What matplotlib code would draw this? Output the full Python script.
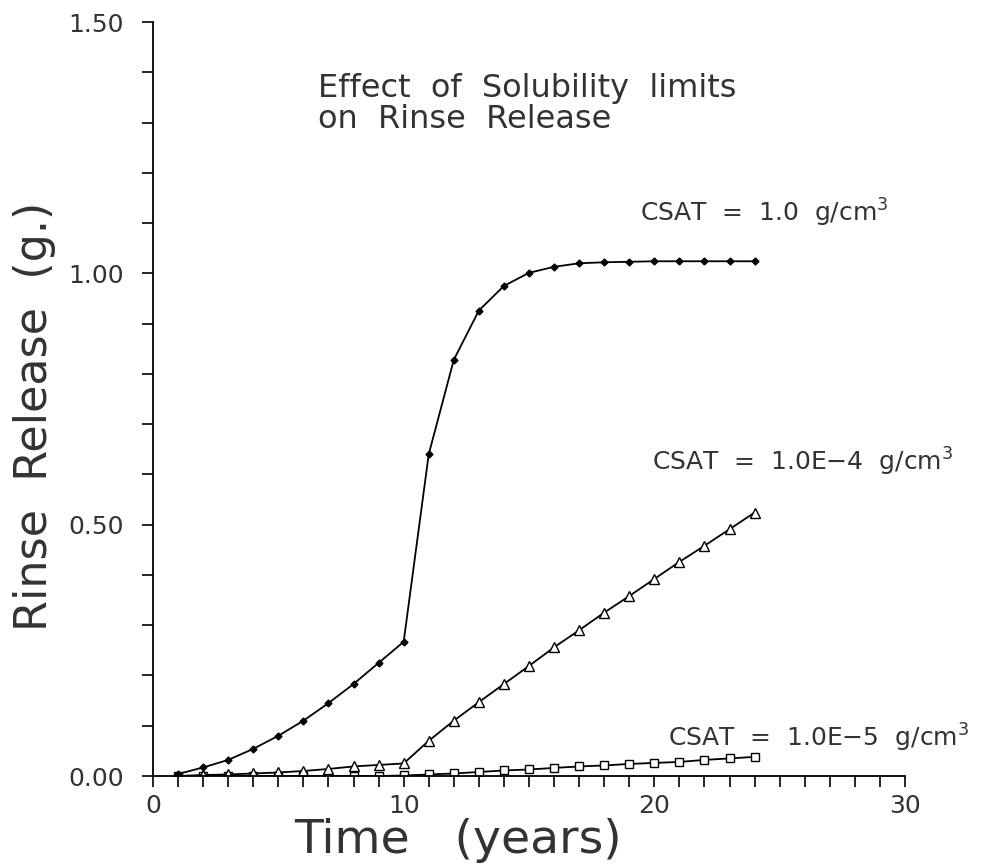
import matplotlib
matplotlib.use("Agg")
import matplotlib.pyplot as plt
from matplotlib.ticker import MultipleLocator, FixedLocator

years = list(range(1, 25))
csat_1 = [0.004, 0.017, 0.032, 0.054, 0.080, 0.110, 0.145, 0.183, 0.225, 0.267,
          0.640, 0.828, 0.926, 0.975, 1.001, 1.013, 1.020, 1.022, 1.023, 1.024,
          1.024, 1.024, 1.024, 1.024]
csat_1e4 = [0.000, 0.002, 0.003, 0.005, 0.007, 0.010, 0.014, 0.019, 0.022, 0.025,
            0.070, 0.110, 0.147, 0.183, 0.219, 0.256, 0.290, 0.325, 0.358, 0.392,
            0.426, 0.458, 0.491, 0.524]
csat_1e5 = [0.000, 0.000, 0.000, 0.000, 0.000, 0.000, 0.000, 0.000, 0.000, 0.001,
            0.003, 0.005, 0.008, 0.011, 0.013, 0.016, 0.019, 0.021, 0.024, 0.026,
            0.028, 0.032, 0.035, 0.038]

xticks = [0, 10, 20, 30]
xticklabels = ["0", "10", "20", "30"]
yticks = [0.0, 0.5, 1.0, 1.5]
yticklabels = ["0.00", "0.50", "1.00", "1.50"]

plt.rcParams['font.family'] = ['DejaVu Sans']

fig = plt.figure(figsize=(9.96, 8.68), dpi=100)
ax = fig.add_axes([153/996, 1-776/868, (905-153)/996, (776-22)/868])

lw = 1.3
ax.plot(years, csat_1e5, color='black', lw=lw, marker='s', ms=5.5, mfc='white', mec='black', mew=1.0)
ax.plot(years, csat_1e4, color='black', lw=lw, marker='^', ms=6.5, mfc='white', mec='black', mew=1.0)
ax.plot(years, csat_1, color='black', lw=lw, marker='D', ms=3.5, mfc='black', mec='black')

ax.set_xlim(0, 30)
ax.set_ylim(0, 1.5)
ax.xaxis.set_major_locator(FixedLocator(xticks))
ax.set_xticklabels(xticklabels)
ax.xaxis.set_minor_locator(MultipleLocator(1))
ax.yaxis.set_major_locator(FixedLocator(yticks))
ax.set_yticklabels(yticklabels)
ax.yaxis.set_minor_locator(MultipleLocator(0.1))

for s in ['top', 'right']:
    ax.spines[s].set_visible(False)
for s in ['left', 'bottom']:
    ax.spines[s].set_linewidth(1.3)

ax.tick_params(axis='both', which='both', direction='out', width=1.2, length=8, labelsize=18, color='black')
ax.tick_params(axis='x', which='major', pad=5)
ax.tick_params(axis='y', which='major', pad=13)
for lab in ax.get_xticklabels() + ax.get_yticklabels():
    lab.set_color('#333333')

ax.set_xlabel("Time   (years)", fontsize=34, color='#333333', va='center')
ax.xaxis.set_label_coords(0.405, -0.085)
ax.set_ylabel("Rinse  Release  (g.)", fontsize=32, color='#333333', va='center')
ax.yaxis.set_label_coords(-0.157, 0.477)

ax.text(6.58, 1.337, "Effect  of  Solubility  limits\non  Rinse  Release", fontsize=23,
        ha='left', va='center', linespacing=1.0, color='#333333')
ax.text(19.43, 1.12, "CSAT  =  1.0  g/cm$^3$", fontsize=18, ha='left', va='center', color='#333333')
ax.text(19.9, 0.625, "CSAT  =  1.0E\u22124  g/cm$^3$", fontsize=18, ha='left', va='center', color='#333333')
ax.text(20.54, 0.076, "CSAT  =  1.0E\u22125  g/cm$^3$", fontsize=18, ha='left', va='center', color='#333333')

fig.savefig("out.png", dpi=100)
